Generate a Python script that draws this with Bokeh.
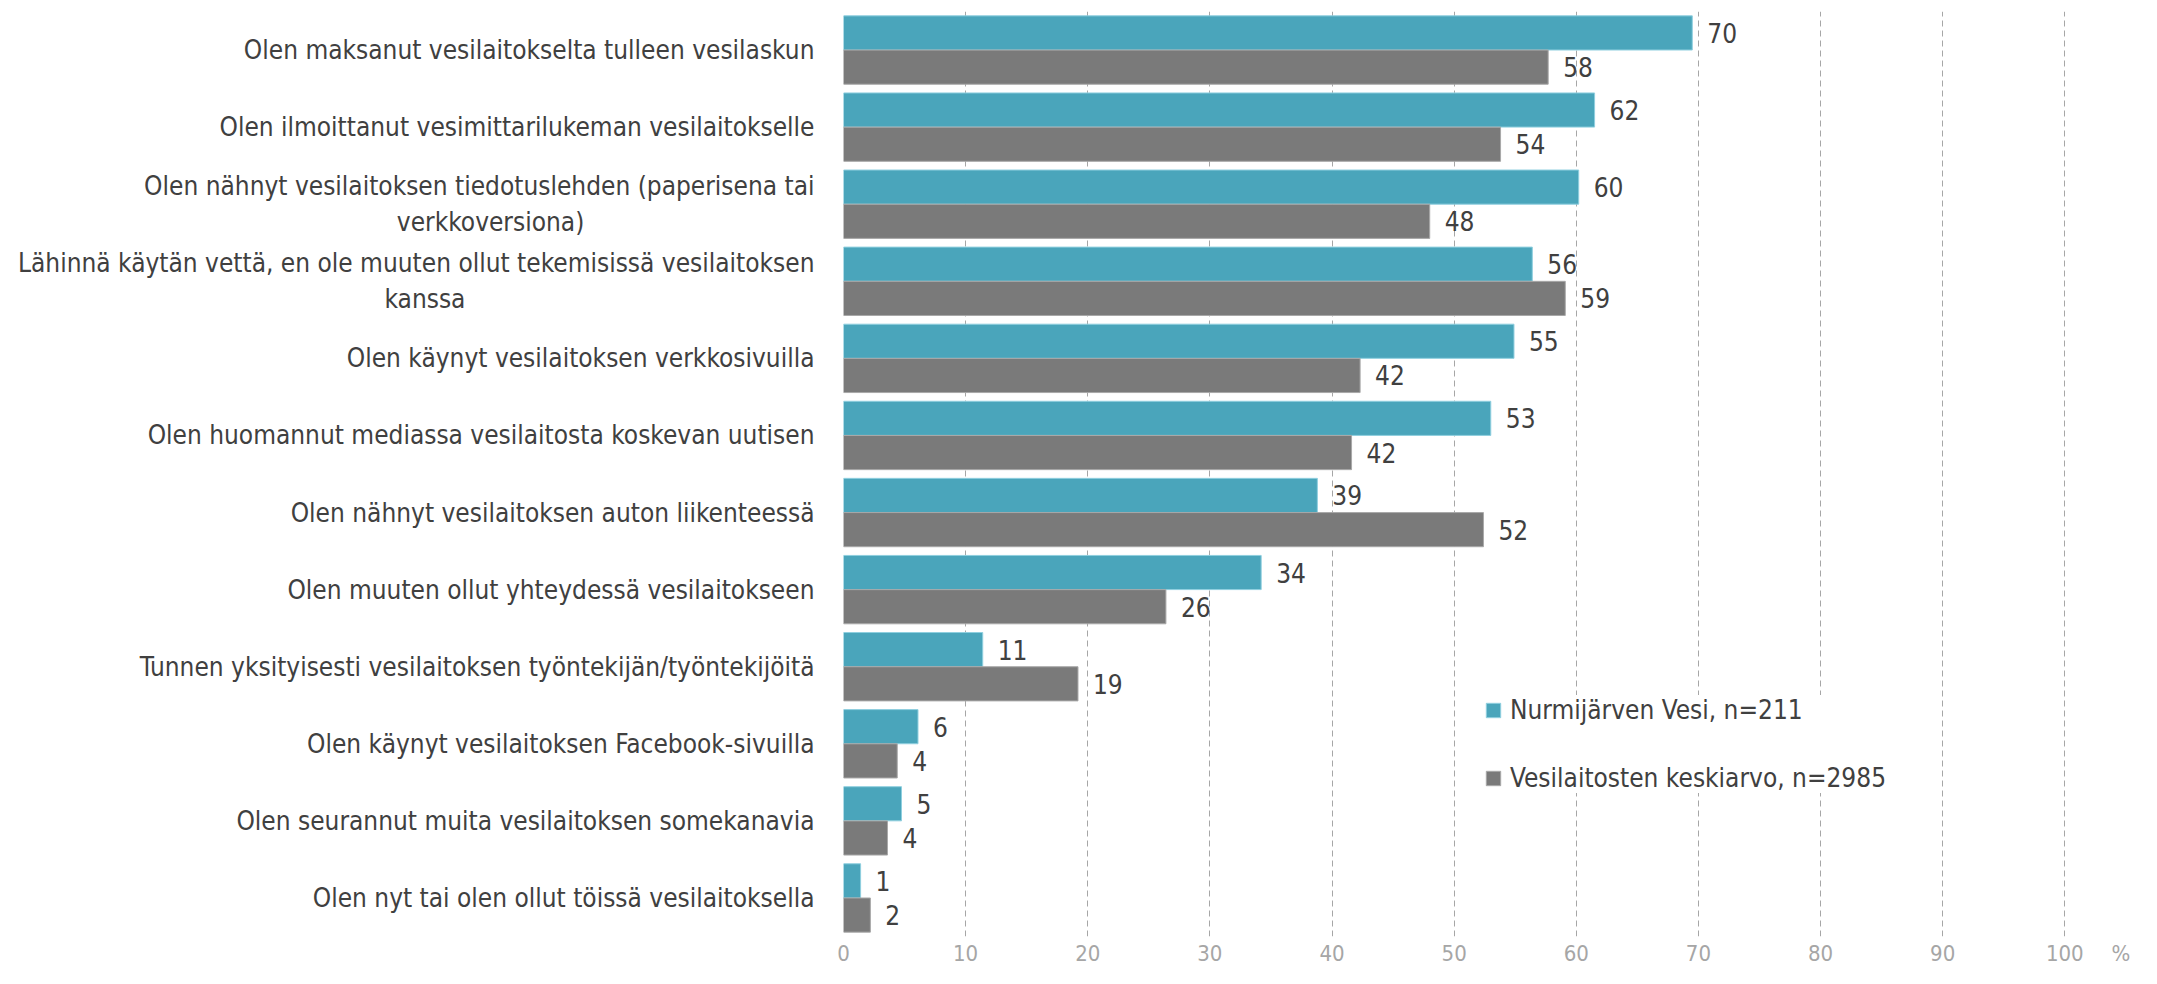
from bokeh.plotting import figure
from bokeh.models import FactorRange, Range1d, FixedTicker, Legend, LegendItem, ColumnDataSource
from bokeh.transform import dodge
from bokeh.core.properties import value
from bokeh.embed import file_html
from bokeh.resources import INLINE

FONT = "DejaVu Sans Condensed, Liberation Sans Narrow, sans-serif"
NBSP = "\u00a0"

categories = [
    "Olen maksanut vesilaitokselta tulleen vesilaskun",
    "Olen ilmoittanut vesimittarilukeman vesilaitokselle",
    "Olen nähnyt vesilaitoksen tiedotuslehden (paperisena tai\nverkkoversiona)" + NBSP * 31,
    "Lähinnä käytän vettä, en ole muuten ollut tekemisissä vesilaitoksen\nkanssa" + NBSP * 47,
    "Olen käynyt vesilaitoksen verkkosivuilla",
    "Olen huomannut mediassa vesilaitosta koskevan uutisen",
    "Olen nähnyt vesilaitoksen auton liikenteessä",
    "Olen muuten ollut yhteydessä vesilaitokseen",
    "Tunnen yksityisesti vesilaitoksen työntekijän/työntekijöitä",
    "Olen käynyt vesilaitoksen Facebook-sivuilla",
    "Olen seurannut muita vesilaitoksen somekanavia",
    "Olen nyt tai olen ollut töissä vesilaitoksella",
]
nurmijarvi = [69.5, 61.5, 60.2, 56.4, 54.9, 53.0, 38.8, 34.2, 11.4, 6.1, 4.75, 1.4]
nurmijarvi_labels = ["70", "62", "60", "56", "55", "53", "39", "34", "11", "6", "5", "1"]
keskiarvo = [57.7, 53.8, 48.0, 59.1, 42.3, 41.6, 52.4, 26.4, 19.2, 4.4, 3.6, 2.2]
keskiarvo_labels = ["58", "54", "48", "59", "42", "42", "52", "26", "19", "4", "4", "2"]
series_names = ["Nurmijärven Vesi, n=211", "Vesilaitosten keskiarvo, n=2985"]
x_ticks = [0, 10, 20, 30, 40, 50, 60, 70, 80, 90, 100]
unit_label = "%"

TEAL = "#4aa5bb"
GRAY = "#7a7a7a"
TEXT = "#404040"

src = ColumnDataSource(dict(cat=categories, a=nurmijarvi, al=nurmijarvi_labels,
                            b=keskiarvo, bl=keskiarvo_labels))

p = figure(width=2141, height=968, output_backend="svg", toolbar_location=None,
           y_range=FactorRange(*reversed(categories)), x_range=Range1d(0, 106.2),
           min_border_left=843, min_border_right=1, min_border_top=11, min_border_bottom=0)
p.outline_line_color = None
p.background_fill_color = "white"

r1 = p.hbar(y=dodge("cat", 0.222, range=p.y_range), right="a", left=0, height=0.443,
            source=src, fill_color=TEAL, line_color="#8fcfdf", line_width=1)
r2 = p.hbar(y=dodge("cat", -0.222, range=p.y_range), right="b", left=0, height=0.443,
            source=src, fill_color=GRAY, line_color="#a8a8a8", line_width=1)

common = dict(text_baseline="middle", text_align="left", text_font_size="26px",
              text_color=TEXT, text_font=value(FONT), x_offset=15)
p.text(x="a", y=dodge("cat", 0.222, range=p.y_range), text="al", source=src, **common)
p.text(x="b", y=dodge("cat", -0.222, range=p.y_range), text="bl", source=src, **common)

# axes
pct_pos = 104.6
p.xaxis.ticker = FixedTicker(ticks=x_ticks + [pct_pos])
p.xaxis.major_label_overrides = {pct_pos: unit_label}
p.xaxis.axis_line_color = None
p.xaxis.major_tick_line_color = None
p.xaxis.minor_tick_line_color = None
p.xaxis.major_label_text_color = "#a6a6a6"
p.xaxis.major_label_text_font = FONT
p.xaxis.major_label_text_font_size = "22px"
p.xaxis.major_label_standoff = -2

p.yaxis.axis_line_color = None
p.yaxis.major_tick_line_color = None
p.yaxis.minor_tick_line_color = None
p.yaxis.major_label_text_color = TEXT
p.yaxis.major_label_text_font = FONT
p.yaxis.major_label_text_font_size = "26px"
p.yaxis.major_label_standoff = 23

p.ygrid.grid_line_color = None
p.xgrid.ticker = FixedTicker(ticks=x_ticks)
p.xgrid.grid_line_color = "#a6a6a6"
p.xgrid.grid_line_dash = "6 4"
p.xgrid.grid_line_width = 1

legend = Legend(items=[LegendItem(label=series_names[0], renderers=[r1]),
                       LegendItem(label=series_names[1], renderers=[r2])],
                location=(641, 143), padding=42, spacing=38, margin=0,
                glyph_width=18, glyph_height=18, label_height=30, label_standoff=8,
                label_text_font=FONT, label_text_font_size="26px", label_text_color=TEXT,
                border_line_color=None, background_fill_color="white", background_fill_alpha=1.0)
p.add_layout(legend)

open("out.html", "w").write(file_html(p, INLINE))
